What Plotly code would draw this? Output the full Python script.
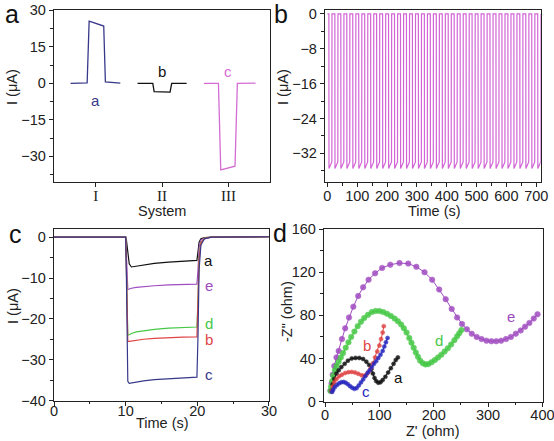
import plotly.graph_objects as go

W, H = 554, 441

# ---------------- Panel a : three systems ----------------
sys_tickvals = [1, 2, 3]
sys_ticktext = ["I", "II", "III"]
pa_a_x = [0.62, 0.87, 0.90, 1.12, 1.145, 1.37]
pa_a_y = [0.0, 0.2, 25.5, 23.5, 0.6, 0.1]
pa_b_x = [1.63, 1.86, 1.88, 2.12, 2.145, 2.37]
pa_b_y = [0.0, 0.0, -3.4, -3.6, 0.0, 0.0]
pa_c_x = [2.63, 2.85, 2.885, 3.10, 3.135, 3.41]
pa_c_y = [0.0, 0.0, -35.5, -34.0, 0.0, 0.1]

# ---------------- Panel b : repeated pulses ----------------
pb_pulse_starts = [5, 25, 45, 65, 85, 105, 125, 145, 165, 185, 205, 225,
                   245, 265, 285, 305, 325, 345, 365, 385, 405, 425, 445, 465,
                   485, 505, 525, 545, 565, 585, 605, 625, 645, 665, 685, 705]
pb_cycle_offsets = [0.0, 0.4, 10.0, 10.4]
pb_cycle_levels = [0.0, -35.5, -34.0, 0.0]

# ---------------- Panel c : current vs time ----------------
pc_t = [0, 10.0, 10.1, 10.2, 10.3, 10.5, 10.8, 11.5, 12.5, 14, 16, 18, 19.95,
        20.1, 20.25, 20.5, 21, 22, 30]
pc_a = [0, 0, -0.6, -2.2, -4.5, -6.5, -7.3, -7.1, -6.8, -6.4, -6.1, -5.9, -5.7,
        -3.5, -1.2, -0.4, -0.1, 0, 0.1]
pc_e = [0, 0, -4, -11, -12.8, -12.7, -12.5, -12.3, -12.1, -11.9, -11.7, -11.6, -11.5,
        -8, -2.5, -0.7, -0.2, 0, 0.1]
pc_d = [0, 0, -7, -20, -24, -23.9, -23.6, -23.2, -22.9, -22.6, -22.3, -22.1, -22.0,
        -15, -5, -1.3, -0.3, 0, 0.1]
pc_b = [0, 0, -7, -21, -25.5, -25.5, -25.4, -25.2, -25.0, -24.8, -24.6, -24.5, -24.4,
        -17, -5.5, -1.4, -0.3, 0, 0.1]
pc_c = [0, 0, -9, -28, -35.3, -35.8, -35.7, -35.4, -35.2, -34.9, -34.7, -34.5, -34.3,
        -24, -8, -2, -0.4, 0, 0.1]

# ---------------- Panel d : Nyquist plots ----------------
pd_e_x = [10, 12, 14, 17, 21, 25, 31, 37, 44, 52, 61, 70, 80, 92, 105, 120, 137, 153,
          168, 183, 197, 210, 222, 233, 243, 252, 261, 270, 279, 288, 297, 306, 315,
          324, 333, 342, 351, 360, 368, 376, 384, 391]
pd_e_y = [10, 17, 25, 33, 41, 47, 58, 68, 78, 88, 98, 106, 113, 119, 124, 127, 128.5,
          128, 125, 120, 113, 104, 95, 86, 78, 72, 67, 63, 60, 58, 56.5, 56, 56, 56.5,
          58, 60, 63, 66, 69.5, 73, 77, 81]
pd_d_x = [10, 11, 13, 15, 18, 21, 25, 29, 33, 38, 43, 48, 54, 60, 66, 72, 79, 86, 93,
          100, 107, 114, 121, 128, 134, 140, 145, 150, 155, 159, 163, 167, 171, 175,
          180, 185, 190, 196, 202, 208, 214, 220, 226, 232, 238, 243, 247, 251]
pd_d_y = [10, 14, 19, 24, 29, 33, 37, 41, 45, 50, 55, 60, 65, 70, 74, 77.5, 80.5, 83,
          84, 84, 83, 81.5, 79.5, 77, 74.5, 71.5, 68, 64, 59, 54.5, 50, 45.5, 41.5, 38,
          35.5, 34.5, 34.8, 36.5, 38.5, 41, 43.5, 46.5, 49.5, 53, 57, 60.5, 63.5, 66.5]
pd_a_x = [12, 14, 17, 21, 25, 30, 36, 42, 49, 56, 63, 70, 76, 81, 85, 88, 91, 94, 98,
          102, 106, 111, 116, 121, 126, 130, 134]
pd_a_y = [10, 16, 21, 26, 29, 32, 35, 38, 40, 40.5, 40.5, 39.5, 37, 34, 30, 26, 22, 19,
          17.5, 18, 20, 23, 27, 31, 35, 38.5, 41]
pd_b_x = [12, 14, 17, 21, 26, 31, 37, 43, 49, 55, 61, 67, 72, 76, 80, 84, 88, 92, 96,
          100, 103, 106, 108]
pd_b_y = [10, 14, 18, 21, 23.5, 25, 26.5, 27.3, 27.5, 27, 25.8, 24.5, 24, 25, 27.5, 31,
          35.5, 41, 46.5, 52, 58, 64, 70]
pd_c_x = [13, 15, 18, 22, 26, 30, 34, 38, 42, 46, 50, 54, 58, 62, 66, 70, 74, 78, 82,
          86, 90, 94, 98, 102, 106, 109, 112, 115]
pd_c_y = [9, 11, 13.5, 15.5, 17, 18, 18.2, 17.5, 16, 14.3, 12.8, 11.8, 12.5, 15, 17.8,
          20.5, 23.5, 26.5, 29, 32, 35, 37.5, 40.5, 43.5, 47, 51, 55, 59]

# ---------------- colours ----------------
NAVY = "#38388a"
PINK = "#d46cd4"
BLACK = "#111111"
RED = "#e04444"
GREEN = "#46c846"
PURPLE = "#a04cc0"
BLUE = "#2828c0"
MAG = "#d264d6"

FONT = "Liberation Sans, Arial, sans-serif"
TICKSIZE = 14.5


def px(x):
    return x / W


def py(y):
    return 1 - y / H


fig = go.Figure()

# panel a traces
for xs, ys, col in [(pa_a_x, pa_a_y, NAVY), (pa_b_x, pa_b_y, BLACK), (pa_c_x, pa_c_y, PINK)]:
    fig.add_trace(go.Scatter(x=xs, y=ys, mode="lines", line=dict(color=col, width=1.3),
                             xaxis="x", yaxis="y", showlegend=False))

# panel b trace built from the pulse start times
pb_t = [0.0]
pb_i = [0.0]
for s in pb_pulse_starts:
    for off, lev in zip(pb_cycle_offsets, pb_cycle_levels):
        pb_t.append(s + off)
        pb_i.append(lev)
fig.add_trace(go.Scatter(x=pb_t, y=pb_i, mode="lines", line=dict(color=MAG, width=1.2),
                         xaxis="x2", yaxis="y2", showlegend=False))

# panel c traces
for ys, col in [(pc_a, BLACK), (pc_e, PURPLE), (pc_d, GREEN), (pc_b, RED), (pc_c, NAVY)]:
    fig.add_trace(go.Scatter(x=pc_t, y=ys, mode="lines", line=dict(color=col, width=1.2),
                             xaxis="x3", yaxis="y3", showlegend=False))

# panel d traces
for xs, ys, col, ms in [(pd_e_x, pd_e_y, PURPLE, 5.5), (pd_d_x, pd_d_y, GREEN, 5.5),
                        (pd_a_x, pd_a_y, BLACK, 4), (pd_b_x, pd_b_y, RED, 4),
                        (pd_c_x, pd_c_y, BLUE, 4)]:
    fig.add_trace(go.Scatter(x=xs, y=ys, mode="lines+markers",
                             line=dict(color=col, width=1),
                             marker=dict(size=ms, color=col, opacity=0.85,
                                         line=dict(width=0.6, color=col)),
                             xaxis="x4", yaxis="y4", showlegend=False))


def axis(domain, rng, anchor, **kw):
    d = dict(domain=domain, range=rng, anchor=anchor, showgrid=False, zeroline=False,
             automargin=False, ticklabeloverflow="allow",
             showline=True, mirror=True, linecolor="#222", linewidth=1.3,
             ticks="outside", ticklen=4, tickwidth=1.2, tickcolor="#222",
             tickfont=dict(family=FONT, size=TICKSIZE, color="#222"))
    d.update(kw)
    return d


def minor(dt):
    return dict(ticks="outside", ticklen=2.5, tickwidth=1, tickcolor="#222", dtick=dt)


xa = [px(54), px(269.5)]
xb = [px(325), px(540.7)]
xc = [px(54), px(269.3)]
xd = [px(324), px(542.7)]
ytop = [py(182), py(10)]
ybot_c = [py(400.7), py(229)]
ybot_d = [py(401.7), py(229)]

fig.update_layout(
    width=W, height=H, margin=dict(l=0, r=0, t=0, b=0, autoexpand=False),
    paper_bgcolor="white", plot_bgcolor="white",
    xaxis=axis(xa, [0.37, 3.62], "y", tickmode="array", tickvals=sys_tickvals,
               ticktext=sys_ticktext, ticklabelstandoff=-4,
               tickfont=dict(family="Liberation Serif, Times New Roman, serif", size=15, color="#222")),
    yaxis=axis(ytop, [-40.5, 30.1], "x", tickmode="array", tickvals=[30, 15, 0, -15, -30],
               minor=minor(7.5)),
    xaxis2=axis(xb, [-8, 715], "y2", tickmode="array", ticklabelstandoff=-4,
                tickvals=[0, 100, 200, 300, 400, 500, 600, 700], minor=minor(50)),
    yaxis2=axis(ytop, [-38.6, 0.9], "x2", tickmode="array",
                tickvals=[0, -8, -16, -24, -32], minor=minor(4)),
    xaxis3=axis(xc, [0, 30.05], "y3", tickmode="array", tickvals=[0, 10, 20, 30],
                ticklabelstandoff=-7, minor=minor(5)),
    yaxis3=axis(ybot_c, [-40.05, 2], "x3", tickmode="array",
                tickvals=[0, -10, -20, -30, -40], minor=minor(5)),
    xaxis4=axis(xd, [-2, 400.5], "y4", tickmode="array", ticklabelstandoff=-4,
                tickvals=[0, 100, 200, 300, 400], minor=minor(50)),
    yaxis4=axis(ybot_d, [-0.1, 160.1], "x4", tickmode="array",
                tickvals=[0, 40, 80, 120, 160], minor=minor(20)),
)

anns = []


def ann_px(text, x, y, size=14.5, color="#222", angle=0, family=FONT):
    anns.append(dict(text=text, x=px(x), y=py(y), xref="paper", yref="paper",
                     showarrow=False, xanchor="center", yanchor="middle",
                     textangle=angle, font=dict(family=family, size=size, color=color)))


def ann_data(text, x, y, xref, yref, color, size=15):
    anns.append(dict(text=text, x=x, y=y, xref=xref, yref=yref, showarrow=False,
                     xanchor="center", yanchor="middle",
                     font=dict(family=FONT, size=size, color=color)))


# panel letters
ann_px("a", 12, 14, size=25, color="#111")
ann_px("b", 281, 14, size=25, color="#111")
ann_px("c", 15, 234, size=25, color="#111")
ann_px("d", 280, 233, size=25, color="#111")

# axis titles
ann_px("I (μA)", 12, 87, angle=-90)
ann_px("I (μA)", 283, 87, angle=-90)
ann_px("I (μA)", 13, 306, angle=-90)
ann_px("-Z\" (ohm)", 287, 312, angle=-90)
ann_px("System", 162, 211)
ann_px("Time (s)", 435, 211)
ann_px("Time (s)", 162, 423)
ann_px("Z' (ohm)", 433, 431)

# panel a labels
ann_data("a", 1.0, -7.0, "x", "y", NAVY)
ann_data("b", 2.0, 4.9, "x", "y", BLACK)
ann_data("c", 3.0, 4.9, "x", "y", PINK)

# panel c labels
for t, yv, col in [("a", -5.6, BLACK), ("e", -11.9, PURPLE), ("d", -21.1, GREEN),
                   ("b", -25.0, RED), ("c", -33.6, NAVY)]:
    ann_data(t, 21.6, yv, "x3", "y3", col)

# panel d labels
for t, xv, yv, col in [("a", 136, 22.6, BLACK), ("b", 78, 52.5, RED), ("c", 75, 9.3, BLUE),
                       ("d", 210, 57, GREEN), ("e", 342, 79, PURPLE)]:
    ann_data(t, xv, yv, "x4", "y4", col)

fig.update_layout(annotations=anns)

fig.write_html("out.html", config={"displayModeBar": False},
               post_script="document.body.style.margin='0';document.body.style.padding='0';")
